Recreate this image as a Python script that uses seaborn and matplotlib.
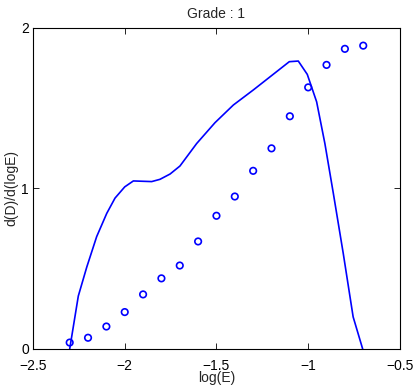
import numpy as np
import pandas as pd
import matplotlib
matplotlib.use('Agg')
import matplotlib.pyplot as plt
import seaborn as sns

# measured points (circles)
log_e = [-2.3, -2.2, -2.1, -2.0, -1.9, -1.8, -1.7, -1.6, -1.5,
         -1.4, -1.3, -1.2, -1.1, -1.0, -0.9, -0.8, -0.7]
deriv_pts = [0.04, 0.07, 0.14, 0.23, 0.34, 0.44, 0.52, 0.67, 0.83,
             0.95, 1.11, 1.25, 1.45, 1.63, 1.77, 1.87, 1.89]

# fitted curve
curve_x = [-2.30, -2.253, -2.207, -2.153, -2.098, -2.053, -2.0, -1.953,
           -1.853, -1.808, -1.753, -1.699, -1.608, -1.508, -1.408, -1.299,
           -1.103, -1.054, -1.005, -0.954, -0.909, -0.863, -0.809, -0.755, -0.703]
curve_y = [0.0, 0.33, 0.51, 0.70, 0.845, 0.94, 1.01, 1.047,
           1.043, 1.057, 1.09, 1.14, 1.28, 1.41, 1.52, 1.614,
           1.79, 1.794, 1.711, 1.54, 1.28, 0.97, 0.596, 0.20, 0.0]

sns.set_style('ticks')
plt.rcParams['font.family'] = ['Liberation Sans', 'DejaVu Sans']
plt.rcParams['axes.unicode_minus'] = True

fig = plt.figure(figsize=(4.14, 3.86), dpi=100)
ax = fig.add_axes([0.0797, 0.0959, 0.8863, 0.8316])

df_curve = pd.DataFrame({'x': curve_x, 'y': curve_y})
df_pts = pd.DataFrame({'x': log_e, 'y': deriv_pts})

sns.lineplot(data=df_curve, x='x', y='y', sort=False, color='#0000ff',
             linewidth=1.2, ax=ax)
sns.scatterplot(data=df_pts, x='x', y='y', marker='o', s=22,
                facecolors='none', edgecolor='#0000ff', linewidth=1.2, ax=ax)

ax.set_xlim(-2.5, -0.5)
ax.set_ylim(0, 2)
ax.set_xticks([-2.5, -2, -1.5, -1, -0.5])
ax.set_xticklabels(['\u22122.5', '\u22122', '\u22121.5', '\u22121', '\u22120.5'])
ax.set_yticks([0, 1, 2])
ax.tick_params(direction='in', length=4, width=0.6, labelsize=10,
               top=True, right=True, colors='black')
ax.tick_params(axis='x', pad=7)
ax.tick_params(axis='y', pad=3)
for sp in ax.spines.values():
    sp.set_visible(True)
    sp.set_linewidth(0.8)
    sp.set_color('black')

ax.set_title('Grade : 1', fontsize=10, pad=7)
ax.set_xlabel('log(E)', fontsize=10, labelpad=-1)
ax.set_ylabel('d(D)/d(logE)', fontsize=10, labelpad=2)

fig.savefig('out.png', dpi=100)
